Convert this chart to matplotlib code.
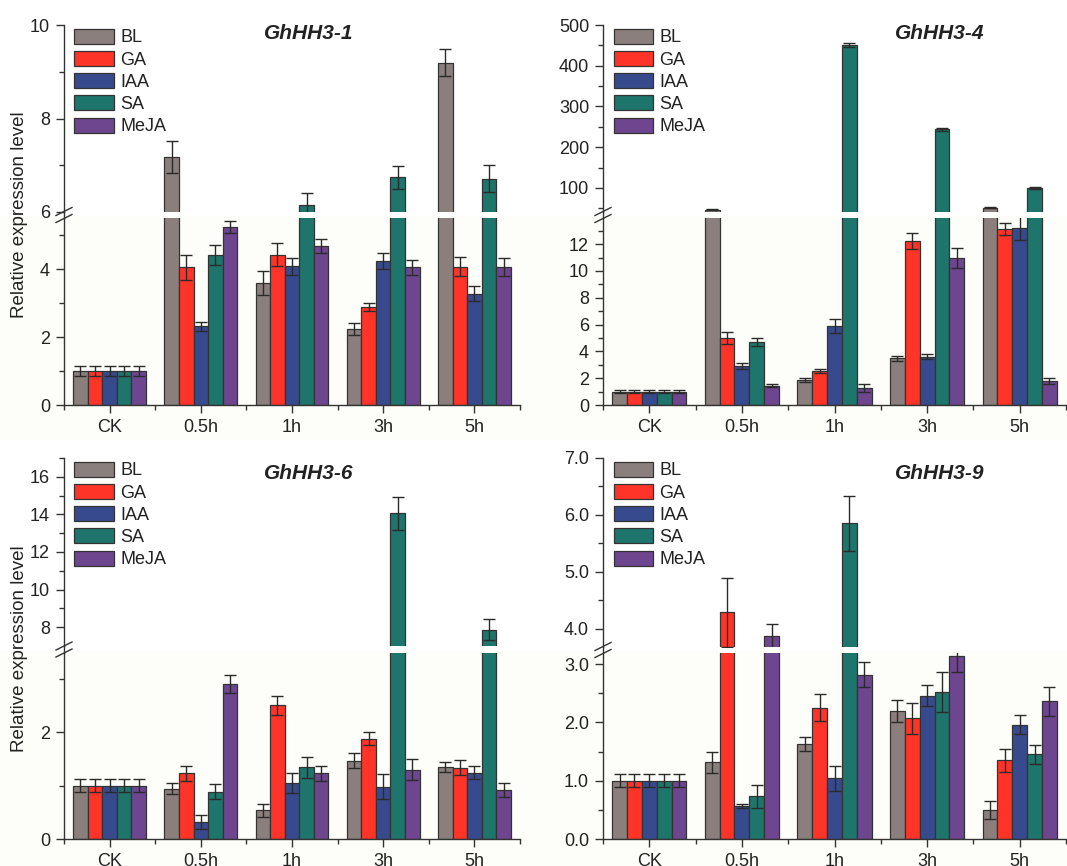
import matplotlib.pyplot as plt
import numpy as np
from matplotlib.lines import Line2D
from matplotlib.patches import Rectangle

plt.rcParams["font.family"] = ["Liberation Sans", "DejaVu Sans"]

categories = ["CK", "0.5h", "1h", "3h", "5h"]
treatments = ["BL", "GA", "IAA", "SA", "MeJA"]
colors = ["#8a7f7c", "#ff3428", "#384a8e", "#1e756b", "#6e4690"]

# values per treatment across CK, 0.5h, 1h, 3h, 5h
hh3_1_BL = [1.0, 7.17, 3.58, 2.24, 9.19]
hh3_1_GA = [1.0, 4.05, 4.42, 2.88, 4.07]
hh3_1_IAA = [1.0, 2.31, 4.08, 4.24, 3.27]
hh3_1_SA = [1.0, 4.41, 6.14, 6.74, 6.71]
hh3_1_MeJA = [1.0, 5.24, 4.67, 4.05, 4.05]
hh3_1_err_BL = [0.15, 0.34, 0.35, 0.18, 0.29]
hh3_1_err_GA = [0.15, 0.37, 0.34, 0.12, 0.27]
hh3_1_err_IAA = [0.15, 0.12, 0.25, 0.23, 0.22]
hh3_1_err_SA = [0.15, 0.30, 0.26, 0.25, 0.29]
hh3_1_err_MeJA = [0.15, 0.18, 0.20, 0.22, 0.27]

hh3_4_BL = [1.0, 47.0, 1.87, 3.48, 52.0]
hh3_4_GA = [1.0, 4.98, 2.54, 12.26, 13.1]
hh3_4_IAA = [1.0, 2.91, 5.9, 3.6, 13.23]
hh3_4_SA = [1.0, 4.70, 451.0, 244.0, 100.0]
hh3_4_MeJA = [1.0, 1.44, 1.24, 10.95, 1.79]
hh3_4_err_BL = [0.13, 1.0, 0.13, 0.17, 1.0]
hh3_4_err_GA = [0.13, 0.45, 0.12, 0.6, 0.45]
hh3_4_err_IAA = [0.13, 0.2, 0.5, 0.2, 0.95]
hh3_4_err_SA = [0.13, 0.32, 5.0, 3.0, 2.0]
hh3_4_err_MeJA = [0.13, 0.1, 0.3, 0.75, 0.2]

hh3_6_BL = [1.0, 0.94, 0.54, 1.46, 1.35]
hh3_6_GA = [1.0, 1.23, 2.5, 1.88, 1.33]
hh3_6_IAA = [1.0, 0.32, 1.05, 0.98, 1.24]
hh3_6_SA = [1.0, 0.88, 1.34, 14.05, 7.86]
hh3_6_MeJA = [1.0, 2.9, 1.23, 1.3, 0.92]
hh3_6_err_BL = [0.12, 0.1, 0.12, 0.14, 0.09]
hh3_6_err_GA = [0.12, 0.14, 0.18, 0.12, 0.14]
hh3_6_err_IAA = [0.12, 0.13, 0.18, 0.23, 0.12]
hh3_6_err_SA = [0.12, 0.14, 0.2, 0.9, 0.55]
hh3_6_err_MeJA = [0.12, 0.16, 0.14, 0.19, 0.13]

hh3_9_BL = [1.0, 1.32, 1.63, 2.19, 0.5]
hh3_9_GA = [1.0, 4.29, 2.25, 2.07, 1.35]
hh3_9_IAA = [1.0, 0.57, 1.04, 2.46, 1.96]
hh3_9_SA = [1.0, 0.73, 5.85, 2.52, 1.45]
hh3_9_MeJA = [1.0, 3.87, 2.82, 3.13, 2.36]
hh3_9_err_BL = [0.11, 0.18, 0.12, 0.19, 0.16]
hh3_9_err_GA = [0.11, 0.61, 0.23, 0.27, 0.2]
hh3_9_err_IAA = [0.11, 0.03, 0.21, 0.18, 0.16]
hh3_9_err_SA = [0.11, 0.19, 0.49, 0.34, 0.16]
hh3_9_err_MeJA = [0.11, 0.22, 0.21, 0.26, 0.25]

W, H = 1067, 866
fig = plt.figure(figsize=(W / 100, H / 100), dpi=100)

# very faint tint in the lower parts of the picture
for top, bottom in [(216, 440), (650, 866)]:
    fig.patches.append(Rectangle((0, 1 - bottom / H), 1, (bottom - top) / H,
                                 transform=fig.transFigure, facecolor="#fdfdf9",
                                 edgecolor="none", zorder=-10))


def px_box(left, right, top, bottom):
    return [left / W, 1 - bottom / H, (right - left) / W, (bottom - top) / H]


def style_axis(ax, is_lower):
    for side in ["top", "right"]:
        ax.spines[side].set_visible(False)
    ax.spines["left"].set_color("#333333")
    ax.spines["bottom"].set_color("#333333")
    ax.spines["left"].set_linewidth(1.0)
    ax.spines["bottom"].set_linewidth(1.0)
    ax.tick_params(axis="y", which="major", direction="out", length=6, width=1,
                   labelsize=13, pad=4, colors="#333333", labelcolor="#222222")
    ax.tick_params(axis="y", which="minor", direction="out", length=3.5, width=1,
                   colors="#333333")
    if is_lower:
        ax.set_xticks(np.arange(len(categories)))
        ax.set_xticklabels(categories)
        ax.set_xticks(np.arange(-0.5, len(categories)), minor=True)
        ax.tick_params(axis="x", which="major", direction="out", length=6, width=1,
                       labelsize=13, pad=4, colors="#333333", labelcolor="#222222")
        ax.tick_params(axis="x", which="minor", direction="out", length=3.5,
                       width=1, colors="#333333")
    else:
        ax.spines["bottom"].set_visible(False)
        ax.set_xticks([])
        ax.set_xticks([], minor=True)
    ax.set_xlim(-0.5, len(categories) - 0.5)
    ax.patch.set_alpha(0)


def draw_bars(ax, series, errors):
    x = np.arange(len(categories))
    width = 0.16
    for i, (vals, errs) in enumerate(zip(series, errors)):
        pos = x + (i - 2) * width
        ax.bar(pos, vals, width=width, color=colors[i], edgecolor="#333333",
               linewidth=0.9, label=treatments[i], zorder=2)
        ax.errorbar(pos, vals, yerr=errs, fmt="none", ecolor="#2a2a2a",
                    elinewidth=1.0, capsize=4.5, capthick=1.0, zorder=3)


def panel(left, right, top, brk_top, brk_bottom, bottom, series, errors,
          upper_lim, lower_lim, upper_major, upper_minor, lower_major,
          lower_minor, title, title_x, title_y, fmt=None, ylabel=False):
    ax_up = fig.add_axes(px_box(left, right, top, brk_top))
    ax_lo = fig.add_axes(px_box(left, right, brk_bottom, bottom))
    for ax, lims, major, minor in [(ax_up, upper_lim, upper_major, upper_minor),
                                   (ax_lo, lower_lim, lower_major, lower_minor)]:
        draw_bars(ax, series, errors)
        ax.set_ylim(*lims)
        ax.set_yticks(major)
        ax.set_yticks(minor, minor=True)
        if fmt:
            ax.set_yticklabels([fmt.format(v) for v in major])
    style_axis(ax_up, False)
    style_axis(ax_lo, True)

    leg = ax_up.legend(loc="upper left", bbox_to_anchor=(0.015, 1.0),
                       frameon=False, fontsize=13, handlelength=2.2,
                       handleheight=0.9, handletextpad=0.35, labelspacing=0.25,
                       borderaxespad=0.1, borderpad=0.1)
    for t in leg.get_texts():
        t.set_color("#222222")

    ax_up.text(title_x, title_y, title, transform=ax_up.get_xaxis_transform(),
               ha="center", va="center", fontsize=15, fontweight="bold",
               fontstyle="italic", color="#222222")

    # break marks on the left spine
    mid = (brk_top + brk_bottom) / 2
    for dy in (-3.5, 3.5):
        x0, x1 = left - 8, left + 8
        y0, y1 = mid + dy + 4, mid + dy - 4
        fig.add_artist(Line2D([x0 / W, x1 / W], [1 - y0 / H, 1 - y1 / H],
                              transform=fig.transFigure, color="#333333",
                              linewidth=1.0))
    fig.add_artist(Line2D([left / W, left / W], [1 - brk_top / H, 1 - brk_bottom / H],
                          transform=fig.transFigure, color="#333333",
                          linewidth=1.0))

    if ylabel:
        fig.text(20 / W, 1 - (top + bottom) / 2 / H, "Relative expression level",
                 rotation=90, ha="center", va="center", fontsize=13.5,
                 color="#222222")


panel(64, 520, 25, 212, 218, 405,
      [hh3_1_BL, hh3_1_GA, hh3_1_IAA, hh3_1_SA, hh3_1_MeJA],
      [hh3_1_err_BL, hh3_1_err_GA, hh3_1_err_IAA, hh3_1_err_SA, hh3_1_err_MeJA],
      (6, 10), (0, 5.5), [6, 8, 10], [7, 9], [0, 2, 4], [1, 3, 5],
      "GhHH3-1", 2.18, 0.955, ylabel=True)

panel(603, 1066, 25, 212, 218, 405,
      [hh3_4_BL, hh3_4_GA, hh3_4_IAA, hh3_4_SA, hh3_4_MeJA],
      [hh3_4_err_BL, hh3_4_err_GA, hh3_4_err_IAA, hh3_4_err_SA, hh3_4_err_MeJA],
      (41, 500), (0, 13.95), [100, 200, 300, 400, 500], [50, 150, 250, 350, 450],
      [0, 2, 4, 6, 8, 10, 12], [1, 3, 5, 7, 9, 11, 13],
      "GhHH3-4", 3.14, 0.955)

panel(64, 520, 458, 646, 653, 839,
      [hh3_6_BL, hh3_6_GA, hh3_6_IAA, hh3_6_SA, hh3_6_MeJA],
      [hh3_6_err_BL, hh3_6_err_GA, hh3_6_err_IAA, hh3_6_err_SA, hh3_6_err_MeJA],
      (7, 17), (0, 3.48), [8, 10, 12, 14, 16], [9, 11, 13, 15, 17],
      [0, 2], [1, 3], "GhHH3-6", 2.18, 0.92, ylabel=True)

panel(603, 1066, 458, 647, 653, 839,
      [hh3_9_BL, hh3_9_GA, hh3_9_IAA, hh3_9_SA, hh3_9_MeJA],
      [hh3_9_err_BL, hh3_9_err_GA, hh3_9_err_IAA, hh3_9_err_SA, hh3_9_err_MeJA],
      (3.68, 7.0), (0, 3.19), [4.0, 5.0, 6.0, 7.0], [4.5, 5.5, 6.5],
      [0.0, 1.0, 2.0, 3.0], [0.5, 1.5, 2.5], "GhHH3-9", 3.14, 0.92,
      fmt="{:.1f}")

fig.savefig("out.png", dpi=100)
